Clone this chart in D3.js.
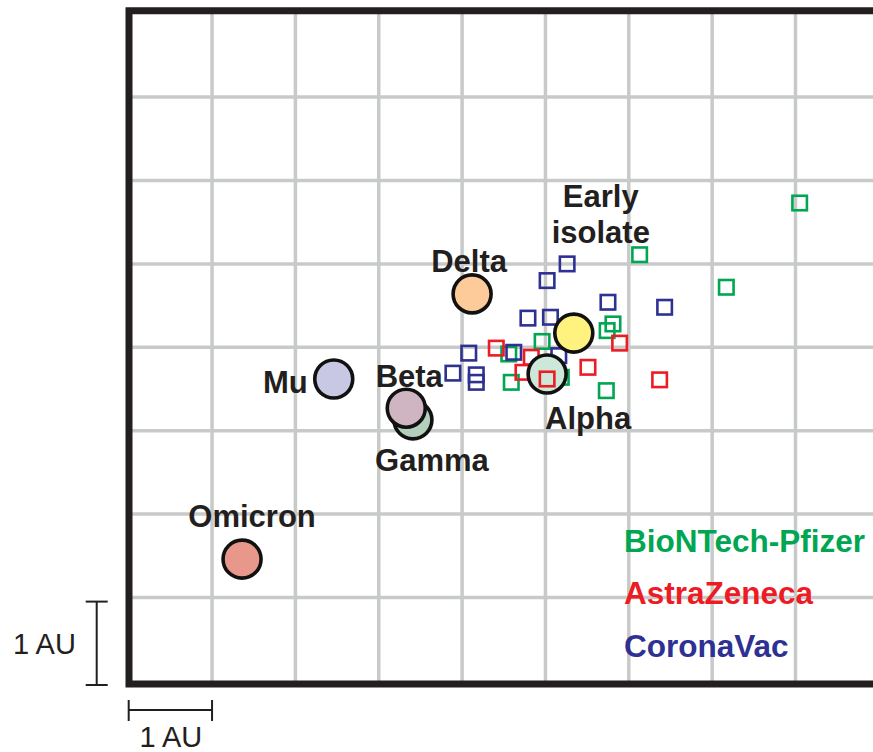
<!DOCTYPE html>
<html>
<head>
<meta charset="utf-8">
<script src="https://cdn.jsdelivr.net/npm/d3@7"></script>
<style>
  body { margin: 0; background: #fff; }
  svg { display: block; font-family: "Liberation Sans", Arial, sans-serif; }
</style>
</head>
<body>
<svg id="chart" width="873" height="752"></svg>
<script>
// grid positions, in antigenic units
const xGrid = [1, 2, 3, 4, 5, 6, 7, 8];
const yGrid = [1, 2, 3, 4, 5, 6, 7];

// variants (virus positions)
const variantNames = ['Omicron', 'Mu', 'Gamma', 'Beta', 'Delta', 'Alpha', 'Early isolate'];
const variantX = [1.36, 2.46, 3.41, 3.33, 4.12, 5.02, 5.34];
const variantY = [1.46, 3.62, 3.13, 3.27, 4.64, 3.68, 4.17];
const variantFill = ['#e8978b', '#c9c8e4', '#b3cfbc', '#cfb4c1', '#fdcb99', '#cde7d8', '#fff27f'];

// label offsets from each circle (px) and text anchor
const labelDx = [10, -26, 19, 3, -3, 41, 27];
const labelDy = [-32, 14, 51, -21, -22, 55, -126];
const labelAnchor = ['middle', 'end', 'middle', 'middle', 'middle', 'middle', 'middle'];

// sera
const pfizerX = [8.05, 7.17, 6.13, 5.81, 5.74, 4.96, 4.56, 4.59, 5.73, 5.19];
const pfizerY = [5.73, 4.72, 5.11, 4.28, 4.20, 4.07, 3.92, 3.58, 3.48, 3.64];
const azX = [4.41, 4.83, 4.73, 5.02, 5.51, 5.89, 6.37];
const azY = [3.99, 3.88, 3.70, 3.62, 3.76, 4.05, 3.61];
const coronaX = [5.26, 5.02, 5.75, 6.43, 4.79, 5.06, 4.08, 3.89, 4.17, 4.17, 5.16, 4.62];
const coronaY = [5.00, 4.80, 4.54, 4.48, 4.35, 4.36, 3.93, 3.69, 3.67, 3.58, 3.90, 3.94];
const azOnTop = [3];

const legendNames = ['BioNTech-Pfizer', 'AstraZeneca', 'CoronaVac'];
const legendColors = ['#00a651', '#ed1c24', '#2e3192'];

const ink = '#231f20';
const unit = 83.4;
const svg = d3.select('#chart');

const x = d3.scaleLinear().domain([0, 1]).range([128.7, 128.7 + 83.35]);
const y = d3.scaleLinear().domain([0, 1]).range([680.9, 680.9 - unit]);

const frame = { left: 129, top: 10.8, bottom: 684, right: 880 };

// grid
const grid = svg.append('g').attr('stroke', '#c8cac9').attr('stroke-width', 3.5);
grid.selectAll('.gx').data(xGrid).join('line')
  .attr('x1', (d) => x(d)).attr('x2', (d) => x(d))
  .attr('y1', frame.top).attr('y2', frame.bottom);
grid.selectAll('.gy').data(yGrid).join('line')
  .attr('y1', (d) => y(d)).attr('y2', (d) => y(d))
  .attr('x1', frame.left).attr('x2', frame.right);

// frame (left, top, bottom)
svg.append('path')
  .attr('d', `M${frame.right},${frame.top}H${frame.left}V${frame.bottom}H${frame.right}`)
  .attr('fill', 'none')
  .attr('stroke', ink)
  .attr('stroke-width', 7);

function drawSquares(g, xs, ys, color) {
  const side = 14.5;
  g.selectAll(null).data(xs).join('rect')
    .attr('x', (d) => x(d) - side / 2)
    .attr('y', (d, i) => y(ys[i]) - side / 2)
    .attr('width', side)
    .attr('height', side)
    .attr('fill', 'none')
    .attr('stroke', color)
    .attr('stroke-width', 2.6);
}

const sera = svg.append('g');
drawSquares(sera.append('g'), pfizerX, pfizerY, legendColors[0]);
drawSquares(sera.append('g'), coronaX, coronaY, legendColors[2]);
drawSquares(sera.append('g'), azX.filter((d, i) => !azOnTop.includes(i)),
  azY.filter((d, i) => !azOnTop.includes(i)), legendColors[1]);

// variant circles
svg.append('g').selectAll('circle').data(variantNames).join('circle')
  .attr('cx', (d, i) => x(variantX[i]))
  .attr('cy', (d, i) => y(variantY[i]))
  .attr('r', 19)
  .attr('fill', (d, i) => variantFill[i])
  .attr('stroke', '#111')
  .attr('stroke-width', 3.6);

drawSquares(svg.append('g'), azOnTop.map((i) => azX[i]), azOnTop.map((i) => azY[i]), legendColors[1]);

// variant labels
const labels = svg.append('g')
  .attr('font-size', 31)
  .attr('font-weight', 'bold')
  .attr('fill', ink);
variantNames.forEach((name, i) => {
  const t = labels.append('text')
    .attr('text-anchor', labelAnchor[i])
    .attr('x', x(variantX[i]) + labelDx[i])
    .attr('y', y(variantY[i]) + labelDy[i]);
  name.split(' ').forEach((word, j) => {
    t.append('tspan')
      .attr('x', x(variantX[i]) + labelDx[i])
      .attr('dy', j === 0 ? 0 : 35.4)
      .text(word);
  });
});

// legend
svg.append('g').attr('font-size', 31.5).attr('font-weight', 'bold')
  .selectAll('text').data(legendNames).join('text')
  .attr('x', 624)
  .attr('y', (d, i) => 551.7 + i * 52.7)
  .attr('fill', (d, i) => legendColors[i])
  .text((d) => d);

// scale bars
const bars = svg.append('g').attr('stroke', ink).attr('stroke-width', 2);
const vx = 96.7;
const vBottom = 685;
const vTop = vBottom - (y(0) - y(1));
bars.append('line').attr('x1', vx).attr('x2', vx).attr('y1', vTop).attr('y2', vBottom);
bars.append('line').attr('x1', vx - 11).attr('x2', vx + 11).attr('y1', vTop).attr('y2', vTop);
bars.append('line').attr('x1', vx - 11).attr('x2', vx + 11).attr('y1', vBottom).attr('y2', vBottom);

const hy = 710;
bars.append('line').attr('x1', x(0)).attr('x2', x(1)).attr('y1', hy).attr('y2', hy);
bars.append('line').attr('x1', x(0)).attr('x2', x(0)).attr('y1', hy - 10).attr('y2', hy + 11);
bars.append('line').attr('x1', x(1)).attr('x2', x(1)).attr('y1', hy - 10).attr('y2', hy + 11);

svg.append('text').attr('x', 13).attr('y', 654)
  .attr('font-size', 29).attr('fill', ink).text('1 AU');
svg.append('text').attr('x', (x(0) + x(1)) / 2 + 0.5).attr('y', 746.5)
  .attr('text-anchor', 'middle')
  .attr('font-size', 29).attr('fill', ink).text('1 AU');
</script>
</body>
</html>
